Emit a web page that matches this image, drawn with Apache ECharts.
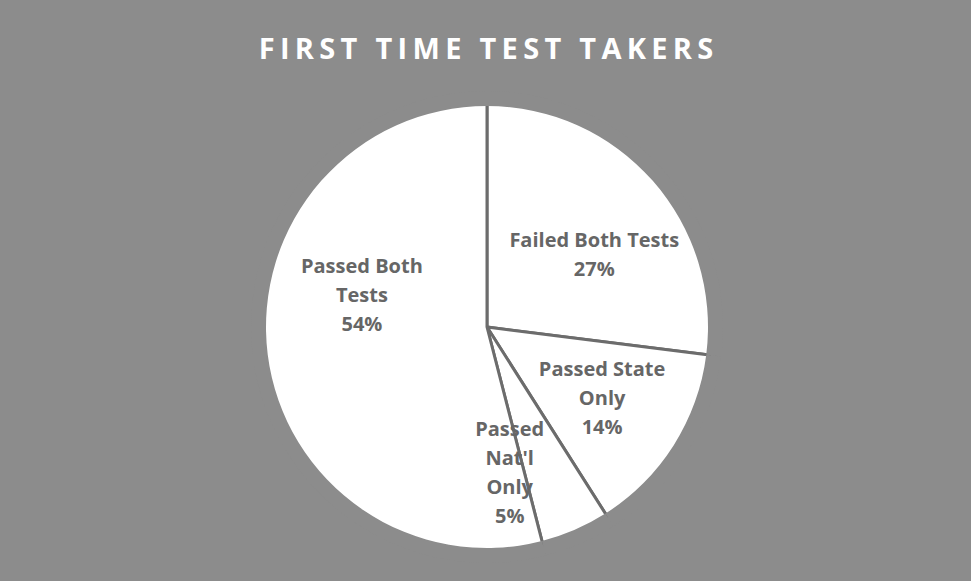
<!DOCTYPE html>
<html>
<head>
<meta charset="utf-8">
<script src="https://cdn.jsdelivr.net/npm/echarts@6/dist/echarts.min.js"></script>
<style>
  html, body { margin: 0; padding: 0; background: #8c8c8c; }
  #chart { width: 971px; height: 581px; }
</style>
</head>
<body>
<div id="chart"></div>
<script>
// Outcome categories and their shares (percent), clockwise from 12 o'clock
const categories = ['Failed Both Tests', 'Passed State Only', "Passed Nat'l Only", 'Passed Both Tests'];
const labelLines = ['Failed Both Tests', 'Passed State\nOnly', "Passed\nNat'l\nOnly", 'Passed Both\nTests'];
const shares = [27, 14, 5, 54];
const titleText = 'FIRST TIME TEST TAKERS';

// Nudges applied to each label from its default inside position
const labelShift = [[21, 3], [18, 9], [-23, 39], [-11, -47]];

const chart = echarts.init(document.getElementById('chart'), null, { renderer: 'svg' });

const pieData = categories.map((name, i) => ({ name: name, value: shares[i], text: labelLines[i] }));

chart.setOption({
  backgroundColor: '#8c8c8c',
  animation: false,
  title: {
    text: titleText,
    left: 'center',
    top: 28,
    textStyle: {
      color: '#ffffff',
      fontFamily: 'Open Sans',
      fontWeight: 'bold',
      fontSize: 29
    }
  },
  series: [
    {
      type: 'pie',
      center: [487, 327],
      radius: [0, 224],
      startAngle: 90,
      clockwise: true,
      data: pieData,
      itemStyle: {
        color: '#ffffff',
        borderColor: '#6c6c6c',
        borderWidth: 3
      },
      label: {
        show: true,
        position: 'inside',
        formatter: p => p.data.text + '\n' + p.value + '%',
        color: '#666666',
        fontFamily: 'Open Sans',
        fontWeight: 'bold',
        fontSize: 20,
        lineHeight: 29,
        align: 'center'
      },
      labelLine: { show: false },
      labelLayout: params => ({ dx: labelShift[params.dataIndex][0], dy: labelShift[params.dataIndex][1] }),
      emphasis: { disabled: true }
    },
    {
      // background-coloured ring trims the slice outline off the rim
      type: 'pie',
      center: [487, 327],
      radius: [221, 236],
      startAngle: 90,
      silent: true,
      data: shares.map(v => ({ value: v })),
      itemStyle: { color: '#8c8c8c', borderWidth: 0 },
      label: { show: false },
      labelLine: { show: false },
      emphasis: { disabled: true }
    }
  ]
});

// Widen the title's tracking, then re-centre it on the pie
const tracking = 5.3;
document.querySelectorAll('#chart svg text').forEach(el => {
  if (el.textContent === titleText) {
    el.style.letterSpacing = tracking + 'px';
    const box = el.getBoundingClientRect();
    const mid = (box.left + box.right - tracking) / 2;
    const x0 = parseFloat(el.getAttribute('x') || '0');
    el.setAttribute('x', String(x0 + (486 - mid)));
  }
});
</script>
</body>
</html>
